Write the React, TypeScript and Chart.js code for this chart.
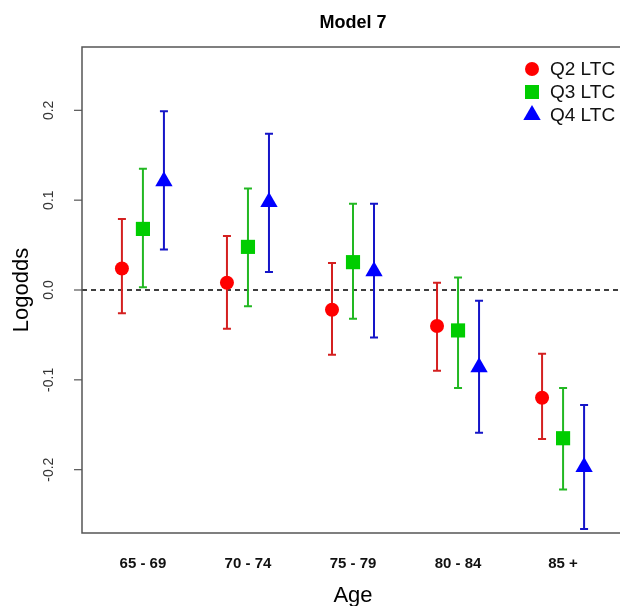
import React, { useEffect, useRef } from "react";
import { Chart, registerables } from "chart.js";

Chart.register(...registerables);

const categories = ["65 - 69", "70 - 74", "75 - 79", "80 - 84", "85 +"];
const seriesNames = ["Q2 LTC", "Q3 LTC", "Q4 LTC"];

const q2Est = [0.024, 0.008, -0.022, -0.040, -0.120];
const q2Lo = [-0.026, -0.043, -0.072, -0.090, -0.166];
const q2Hi = [0.079, 0.060, 0.030, 0.008, -0.071];

const q3Est = [0.068, 0.048, 0.031, -0.045, -0.165];
const q3Lo = [0.003, -0.018, -0.032, -0.109, -0.222];
const q3Hi = [0.135, 0.113, 0.096, 0.014, -0.109];

const q4Est = [0.121, 0.098, 0.021, -0.086, -0.197];
const q4Lo = [0.045, 0.020, -0.053, -0.159, -0.266];
const q4Hi = [0.199, 0.174, 0.096, -0.012, -0.128];

const yTicks = [-0.2, -0.1, 0.0, 0.1, 0.2];
const yTickLabels = ["-0.2", "-0.1", "0.0", "0.1", "0.2"];

const FONT = "'Liberation Sans', Arial, Helvetica, sans-serif";
const markerColors = ["#FF0000", "#00CD00", "#0000FF"];
const barColors = ["#D42020", "#22B822", "#1515C8"];
const pointStyles = ["circle", "rect", "triangle"];
const pointRadii = [7, 10, 10];
const offsets = [-0.2, 0, 0.2];

function buildPoints(est: number[], lo: number[], hi: number[], k: number) {
  return est.map((v, i) => ({ x: i + 1 + offsets[k], y: v, lo: lo[i], hi: hi[i] }));
}

const overlay = {
  id: "overlay",
  beforeDatasetsDraw(chart: any) {
    const { ctx, chartArea: a } = chart;
    const xs = chart.scales.x;
    const ys = chart.scales.y;
    ctx.save();
    const y0 = ys.getPixelForValue(0);
    ctx.strokeStyle = "#000";
    ctx.lineWidth = 1.3;
    ctx.setLineDash([5, 4]);
    ctx.beginPath();
    ctx.moveTo(a.left, y0);
    ctx.lineTo(a.right, y0);
    ctx.stroke();
    ctx.setLineDash([]);
    chart.data.datasets.forEach((ds: any, k: number) => {
      ctx.strokeStyle = barColors[k];
      ctx.lineWidth = 2;
      ds.data.forEach((p: any) => {
        const px = xs.getPixelForValue(p.x);
        const pt = ys.getPixelForValue(p.hi);
        const pb = ys.getPixelForValue(p.lo);
        ctx.beginPath();
        ctx.moveTo(px, pt);
        ctx.lineTo(px, pb);
        ctx.moveTo(px - 4, pt);
        ctx.lineTo(px + 4, pt);
        ctx.moveTo(px - 4, pb);
        ctx.lineTo(px + 4, pb);
        ctx.stroke();
      });
    });
    ctx.restore();
  },
  afterDraw(chart: any) {
    const { ctx, chartArea: a } = chart;
    const ys = chart.scales.y;
    ctx.save();
    ctx.strokeStyle = "#555";
    ctx.lineWidth = 1.5;
    ctx.strokeRect(a.left, a.top, a.right - a.left, a.bottom - a.top);
    ctx.fillStyle = "#333";
    ctx.font = `14px ${FONT}`;
    yTicks.forEach((t, i) => {
      const py = ys.getPixelForValue(t);
      ctx.strokeStyle = "#555";
      ctx.lineWidth = 1.2;
      ctx.beginPath();
      ctx.moveTo(a.left - 8, py);
      ctx.lineTo(a.left, py);
      ctx.stroke();
      ctx.save();
      ctx.translate(a.left - 29, py);
      ctx.rotate(-Math.PI / 2);
      ctx.textAlign = "center";
      ctx.textBaseline = "alphabetic";
      ctx.fillText(yTickLabels[i], 0, 0);
      ctx.restore();
    });
    ctx.fillStyle = "#000";
    ctx.font = `bold 18px ${FONT}`;
    ctx.textAlign = "center";
    ctx.textBaseline = "alphabetic";
    ctx.fillText("Model 7", (a.left + a.right) / 2, 28);
    ctx.save();
    ctx.font = `22px ${FONT}`;
    ctx.translate(28, (a.top + a.bottom) / 2);
    ctx.rotate(-Math.PI / 2);
    ctx.textAlign = "center";
    ctx.fillText("Logodds", 0, 0);
    ctx.restore();
    ctx.font = `22px ${FONT}`;
    ctx.textAlign = "center";
    ctx.fillText("Age", (a.left + a.right) / 2, 602);
    const lx = 532;
    const ly = [69, 92, 115];
    ctx.font = `19px ${FONT}`;
    ctx.textAlign = "left";
    ctx.textBaseline = "middle";
    seriesNames.forEach((name, k) => {
      ctx.fillStyle = markerColors[k];
      const cy = ly[k];
      ctx.beginPath();
      if (k === 0) {
        ctx.arc(lx, cy, 7, 0, Math.PI * 2);
      } else if (k === 1) {
        ctx.rect(lx - 7, cy - 7, 14, 14);
      } else {
        ctx.moveTo(lx, cy - 10);
        ctx.lineTo(lx + 8.7, cy + 5);
        ctx.lineTo(lx - 8.7, cy + 5);
        ctx.closePath();
      }
      ctx.fill();
      ctx.fillStyle = "#111";
      ctx.fillText(name, lx + 18, cy + 1);
    });
    ctx.restore();
  },
};

export default function App() {
  const ref = useRef<HTMLCanvasElement | null>(null);
  useEffect(() => {
    if (!ref.current) return;
    const ests = [q2Est, q3Est, q4Est];
    const los = [q2Lo, q3Lo, q4Lo];
    const his = [q2Hi, q3Hi, q4Hi];
    const chart = new Chart(ref.current, {
      type: "scatter",
      data: {
        datasets: seriesNames.map((name, k) => ({
          label: name,
          data: buildPoints(ests[k], los[k], his[k], k),
          pointStyle: pointStyles[k] as any,
          pointRadius: pointRadii[k],
          pointHoverRadius: pointRadii[k],
          backgroundColor: markerColors[k],
          borderColor: markerColors[k],
          borderWidth: 0,
        })),
      },
      options: {
        responsive: false,
        animation: false,
        devicePixelRatio: window.devicePixelRatio || 1,
        layout: { padding: { left: 0, top: 47, right: 16, bottom: 0 } },
        plugins: {
          legend: { display: false },
          title: { display: false },
          tooltip: { enabled: false },
        },
        scales: {
          x: {
            type: "linear",
            min: 0.42,
            max: 5.58,
            grid: { display: false },
            border: { display: false },
            afterBuildTicks: (s: any) => {
              s.ticks = categories.map((_, i) => ({ value: i + 1 }));
            },
            afterFit: (s: any) => {
              s.height = 73;
            },
            ticks: {
              padding: 14,
              color: "#111",
              font: { family: FONT, size: 15, weight: "bold" },
              maxRotation: 0,
              minRotation: 0,
              autoSkip: false,
              callback: (v: any) => categories[Math.round(Number(v)) - 1] ?? "",
            },
          },
          y: {
            type: "linear",
            min: -0.2705,
            max: 0.2705,
            grid: { display: false },
            border: { display: false },
            ticks: { display: false },
            afterFit: (s: any) => {
              s.width = 82;
            },
          },
        },
      },
      plugins: [overlay],
    });
    return () => chart.destroy();
  }, []);
  return (
    <div
      style={{
        position: "fixed",
        left: 0,
        top: 0,
        width: 620,
        height: 606,
        overflow: "hidden",
        background: "#fff",
      }}
    >
      <canvas ref={ref} width={640} height={606} style={{ display: "block", width: 640, height: 606 }} />
    </div>
  );
}
